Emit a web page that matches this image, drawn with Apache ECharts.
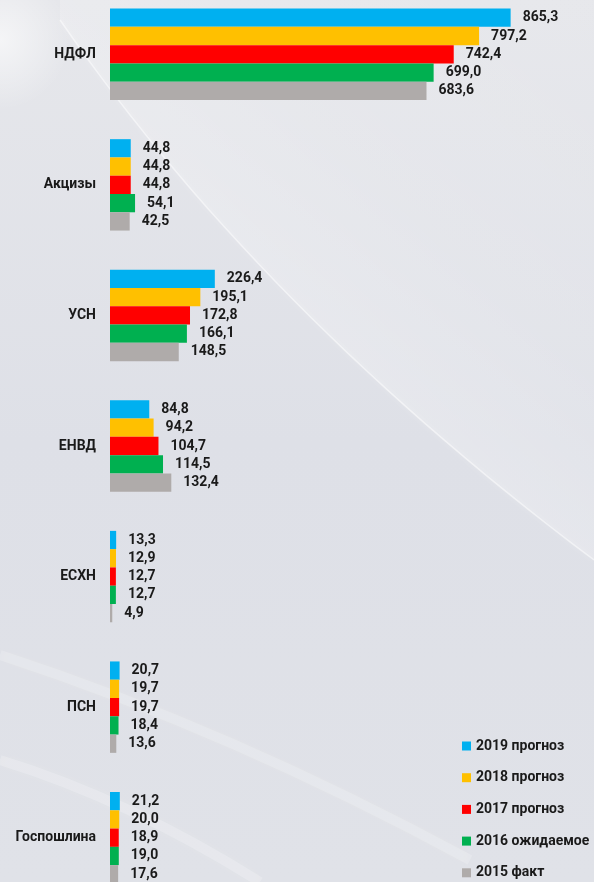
<!DOCTYPE html>
<html>
<head>
<meta charset="utf-8">
<script src="https://cdn.jsdelivr.net/npm/echarts@6/dist/echarts.min.js"></script>
<style>
  html, body { margin: 0; padding: 0; }
  #main { width: 594px; height: 882px; }
</style>
</head>
<body>
<div id="main"></div>
<script>
// категории (сверху вниз)
var categories = ['НДФЛ', 'Акцизы', 'УСН', 'ЕНВД', 'ЕСХН', 'ПСН', 'Госпошлина'];

var seriesNames = ['2019 прогноз', '2018 прогноз', '2017 прогноз', '2016 ожидаемое', '2015 факт'];
var seriesColors = ['#00b0f0', '#ffc000', '#ff0000', '#00b050', '#afabaa'];

var data2019 = [865.3, 44.8, 226.4, 84.8, 13.3, 20.7, 21.2];
var data2018 = [797.2, 44.8, 195.1, 94.2, 12.9, 19.7, 20.0];
var data2017 = [742.4, 44.8, 172.8, 104.7, 12.7, 19.7, 18.9];
var data2016 = [699.0, 54.1, 166.1, 114.5, 12.7, 18.4, 19.0];
var data2015 = [683.6, 42.5, 148.5, 132.4, 4.9, 13.6, 17.6];

var allData = [data2019, data2018, data2017, data2016, data2015];

var fontName = "Roboto, 'Noto Sans', sans-serif";

var series = [];
for (var i = 0; i < seriesNames.length; i++) {
    series.push({
        name: seriesNames[i],
        type: 'bar',
        data: allData[i],
        barGap: 0,
        barCategoryGap: '30%',
        itemStyle: { color: seriesColors[i] },
        label: {
            show: true,
            position: 'right',
            distance: 12,
            color: '#1a1a1a',
            fontFamily: fontName,
            fontWeight: 'bold',
            fontSize: 14,
            formatter: function (p) {
                return p.value.toFixed(1).replace('.', ',');
            }
        }
    });
}

// светлая область фона над дугой (декор)
function quadPoints(x0, y0, cx, cy, x1, y1, n) {
    var pts = [];
    for (var k = 0; k <= n; k++) {
        var t = k / n;
        pts.push([
            (1 - t) * (1 - t) * x0 + 2 * (1 - t) * t * cx + t * t * x1,
            (1 - t) * (1 - t) * y0 + 2 * (1 - t) * t * cy + t * t * y1
        ]);
    }
    return pts;
}
var arcPts = quadPoints(60, 20, 260, 310, 594, 560, 30);
var lightArea = arcPts.concat([[594, 0], [60, 0]]);

var myChart = echarts.init(document.getElementById('main'));
var option = {
    backgroundColor: {
        type: 'linear', x: 0, y: 0, x2: 0, y2: 1,
        colorStops: [
            { offset: 0, color: '#e6e7eb' },
            { offset: 0.5, color: '#dee0e7' },
            { offset: 1, color: '#e0e2e8' }
        ]
    },
    animation: false,
    graphic: [
        {
            type: 'circle', silent: true, z: -5,
            shape: { cx: 0, cy: 40, r: 70 },
            style: {
                fill: {
                    type: 'radial', x: 0.5, y: 0.5, r: 0.5,
                    colorStops: [
                        { offset: 0, color: 'rgba(255,255,255,0.6)' },
                        { offset: 1, color: 'rgba(255,255,255,0)' }
                    ]
                }
            }
        },
        {
            type: 'polygon', silent: true, z: -5,
            shape: { points: lightArea },
            style: {
                fill: {
                    type: 'linear', x: 0, y: 1, x2: 1, y2: 0,
                    colorStops: [
                        { offset: 0.3, color: 'rgba(255,255,255,0.32)' },
                        { offset: 0.65, color: 'rgba(255,255,255,0.1)' },
                        { offset: 1, color: 'rgba(255,255,255,0.03)' }
                    ]
                }
            }
        },
        {
            type: 'polyline', silent: true, z: -4,
            shape: { points: arcPts },
            style: { stroke: 'rgba(255,255,255,0.5)', lineWidth: 1.5, shadowBlur: 6, shadowColor: 'rgba(255,255,255,0.8)' }
        },
        {
            type: 'bezierCurve', silent: true, z: -4,
            shape: { x1: 0, y1: 655, cpx1: 230, cpy1: 730, x2: 470, y2: 860 },
            style: { fill: null, stroke: 'rgba(255,255,255,0.18)', lineWidth: 10, shadowBlur: 14, shadowColor: 'rgba(255,255,255,0.5)' }
        },
        {
            type: 'bezierCurve', silent: true, z: -4,
            shape: { x1: 0, y1: 760, cpx1: 130, cpy1: 800, x2: 260, y2: 882 },
            style: { fill: null, stroke: 'rgba(255,255,255,0.2)', lineWidth: 10, shadowBlur: 14, shadowColor: 'rgba(255,255,255,0.5)' }
        }
    ],
    legend: {
        orient: 'vertical',
        left: 462,
        top: 737,
        padding: 0,
        itemWidth: 9,
        itemHeight: 9,
        itemGap: 13.7,
        icon: 'rect',
        data: seriesNames,
        textStyle: {
            color: '#1a1a1a',
            fontFamily: fontName,
            fontWeight: 'bold',
            fontSize: 14,
            lineHeight: 18
        }
    },
    grid: {
        left: 110,
        right: 21,
        top: -11,
        bottom: -21,
        containLabel: false,
        outerBoundsMode: 'none'
    },
    xAxis: {
        type: 'value',
        min: 0,
        max: 1000,
        show: false,
        splitLine: { show: false }
    },
    yAxis: {
        type: 'category',
        inverse: true,
        data: categories,
        axisLine: { show: false },
        axisTick: { show: false },
        axisLabel: {
            margin: 14,
            color: '#1a1a1a',
            fontFamily: fontName,
            fontWeight: 'bold',
            fontSize: 14
        }
    },
    series: series
};
myChart.setOption(option);
</script>
</body>
</html>
